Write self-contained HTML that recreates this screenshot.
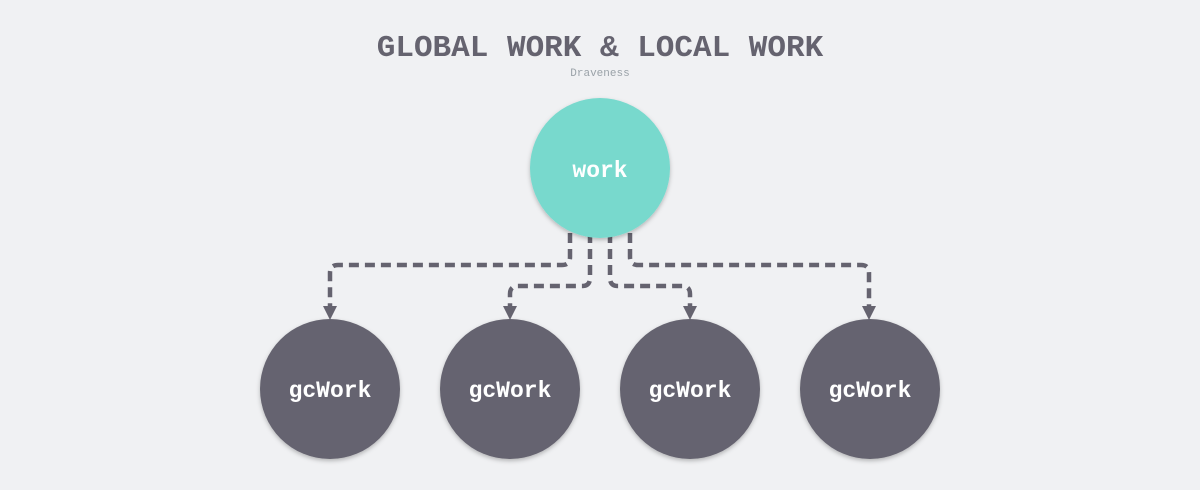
<!DOCTYPE html>
<html><head><meta charset="utf-8"><style>
html,body{margin:0;padding:0;background:#f0f1f3;}
svg{display:block}
</style></head><body>
<svg width="1200" height="490" viewBox="0 0 1200 490" xmlns="http://www.w3.org/2000/svg">
<defs>
<filter id="sh" x="-20%" y="-20%" width="140%" height="140%"><feDropShadow dx="0" dy="2" stdDeviation="2" flood-color="#000" flood-opacity="0.25"/></filter>
</defs>
<rect width="1200" height="490" fill="#f0f1f3"/>
<text x="600" y="56" text-anchor="middle" font-family="Liberation Mono, monospace" font-weight="bold" font-size="31" fill="#65636f">GLOBAL WORK &amp; LOCAL WORK</text>
<text x="600" y="76" text-anchor="middle" font-family="Liberation Mono, monospace" font-size="11" fill="#9aa2a8">Draveness</text>
<g fill="none" stroke="#65636f" stroke-width="4.5" stroke-dasharray="10,6">
<path d="M570 233 V257 Q570 265 562 265 H338 Q330 265 330 273 V312"/>
<path d="M590 233 V278 Q590 286 582 286 H518 Q510 286 510 294 V312"/>
<path d="M610 233 V278 Q610 286 618 286 H682 Q690 286 690 294 V312"/>
<path d="M630 233 V257 Q630 265 638 265 H861 Q869 265 869 273 V312"/>
</g>
<g fill="#65636f">
<path d="M323 306 L337 306 L330 320 Z"/>
<path d="M503 306 L517 306 L510 320 Z"/>
<path d="M683 306 L697 306 L690 320 Z"/>
<path d="M862 306 L876 306 L869 320 Z"/>
</g>
<circle cx="600" cy="168" r="70" fill="#78d9cd" filter="url(#sh)"/>
<text x="600" y="177" text-anchor="middle" font-family="Liberation Mono, monospace" font-weight="bold" font-size="23" fill="#fff">work</text>
<g filter="url(#sh)" fill="#65636f">
<circle cx="330" cy="389" r="70"/><circle cx="510" cy="389" r="70"/><circle cx="690" cy="389" r="70"/><circle cx="870" cy="389" r="70"/>
</g>
<g font-family="Liberation Mono, monospace" font-weight="bold" font-size="23" fill="#fff" text-anchor="middle">
<text x="330" y="397">gcWork</text><text x="510" y="397">gcWork</text><text x="690" y="397">gcWork</text><text x="870" y="397">gcWork</text>
</g>
</svg>
</body></html>
